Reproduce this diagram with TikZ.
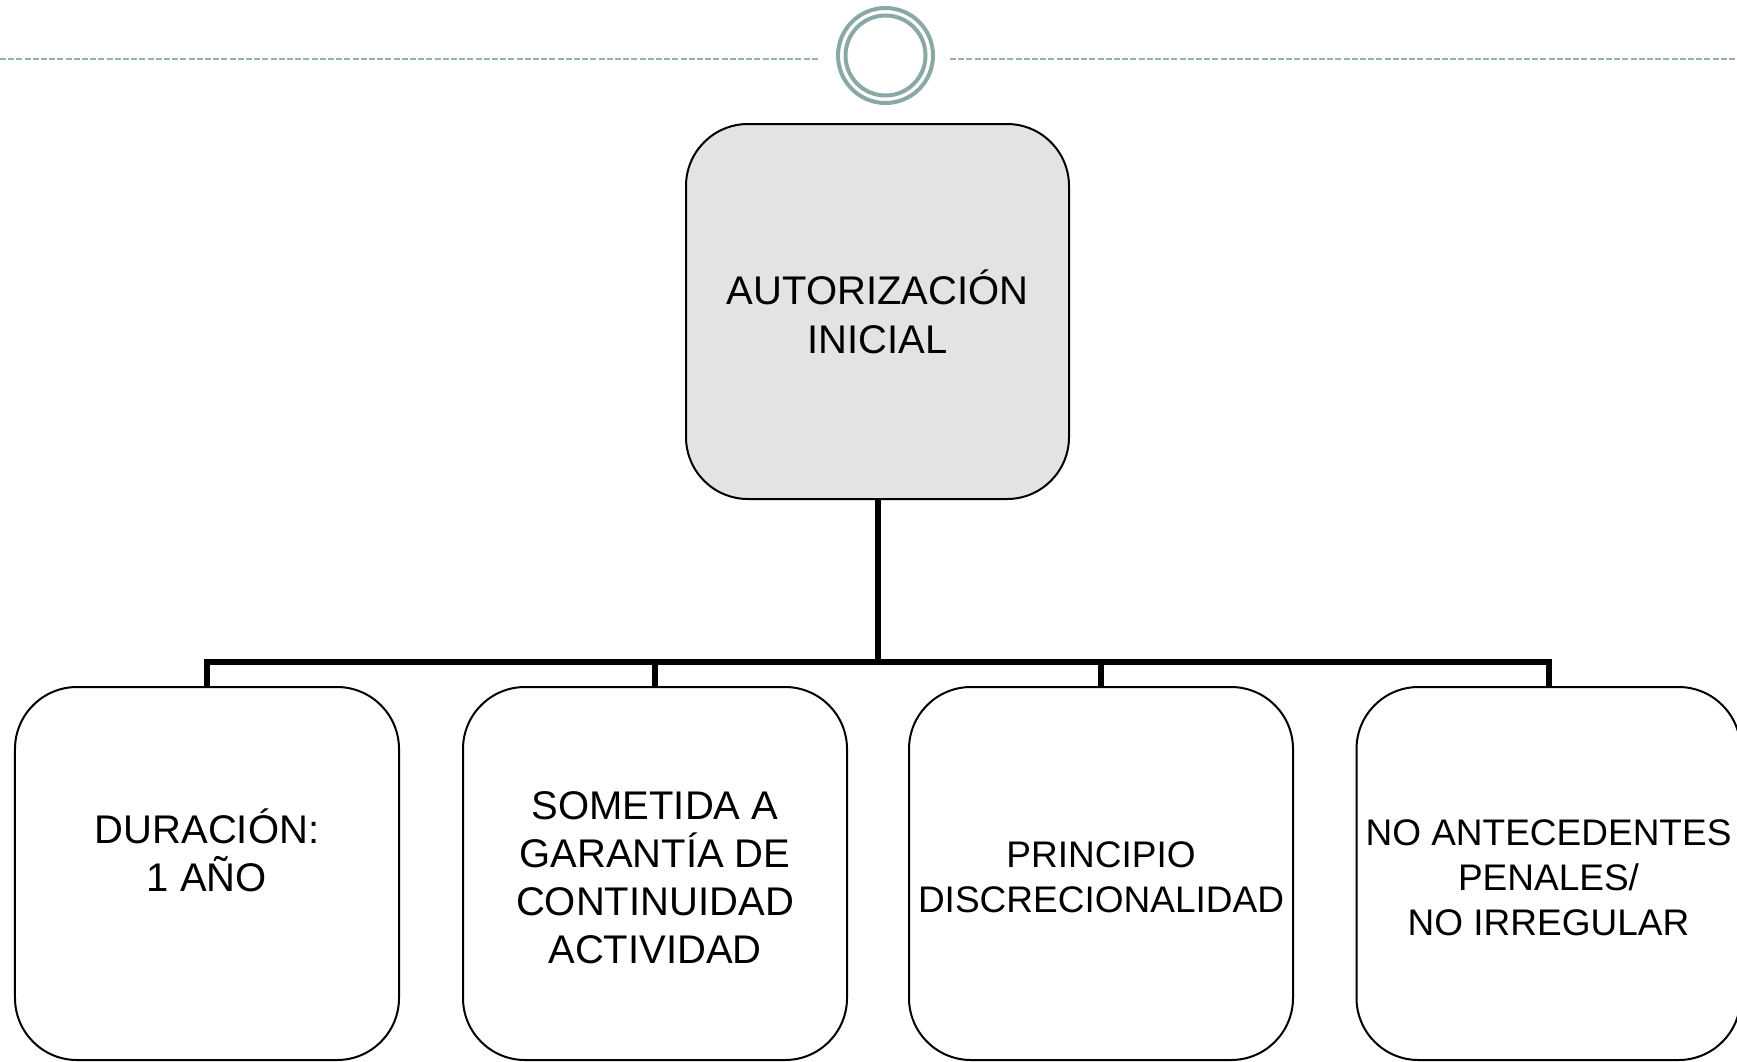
\documentclass[tikz,border=0pt]{standalone}
\usepackage{fontspec}
\setmainfont{Liberation Sans}
\definecolor{ornament}{RGB}{138,168,166}
\definecolor{dashcol}{RGB}{150,178,176}
\definecolor{topfill}{RGB}{227,227,227}
\begin{document}
\begin{tikzpicture}[x=1bp,y=-1bp,
  boxbase/.style={draw=black,line width=2bp,rounded corners=62bp,inner sep=0pt},
  topbox/.style={boxbase,fill=topfill,minimum width=383bp,minimum height=375bp},
  lowbox/.style={boxbase,fill=white,minimum width=384bp,minimum height=373bp},
  boxtext/.style={inner sep=0pt,align=center,text=black},
  conn/.style={draw=black,line width=6bp,line join=miter},
  ring/.style={draw=ornament,line width=4bp,fill=none},
  dashline/.style={draw=dashcol,line width=2bp,dash pattern=on 6bp off 2.2bp}
]
\useasboundingbox (0,0) rectangle (1737,1061);
\fill[white] (0,0) rectangle (1737,1061);

% ornament
\coordinate (dlA) at (0,59);
\coordinate (dlB) at (820,59);
\coordinate (drA) at (950,59);
\coordinate (drB) at (1737,59);
\draw[dashline] (dlA) -- (dlB);
\draw[dashline] (drA) -- (drB);
\node[circle,ring,minimum size=95bp,inner sep=0pt] (ringout) at (885.5,55.5) {};
\node[circle,ring,minimum size=80bp,inner sep=0pt] (ringin) at (885.5,55.5) {};

% boxes
\node[topbox] (top) at (877.5,311.5) {};
\node[lowbox] (b1) at (207,873.5) {};
\node[lowbox] (b2) at (655,873.5) {};
\node[lowbox] (b3) at (1101,873.5) {};
\node[lowbox] (b4) at (1548.5,873.5) {};

% texts (yshift is in page direction: positive = up)
\node[boxtext,font=\fontsize{40bp}{48.5bp}\selectfont] (topt) at ([yshift=-0.5bp]top.center) {AUTORIZACIÓN\\INICIAL};
\node[boxtext,font=\fontsize{40bp}{48bp}\selectfont] (b1t) at ([yshift=23bp]b1.center) {DURACIÓN:\\1 AÑO};
\node[boxtext,font=\fontsize{40bp}{48bp}\selectfont] (b2t) at ([yshift=-4bp]b2.center) {SOMETIDA A\\GARANTÍA DE\\CONTINUIDAD\\ACTIVIDAD};
\node[boxtext,font=\fontsize{37bp}{45.4bp}\selectfont] (b3t) at ([yshift=-4bp]b3.center) {PRINCIPIO\\DISCRECIONALIDAD};
\node[boxtext,font=\fontsize{37bp}{45bp}\selectfont] (b4t) at ([yshift=-4bp]b4.center) {NO ANTECEDENTES\\PENALES/\\NO IRREGULAR};

% connectors
\coordinate (bus) at (877.5,662);
\draw[conn] (top.south) -- (top.south |- bus);
\draw[conn] (b1.north) -- (b1.north |- bus) -- (b4.north |- bus) -- (b4.north);
\draw[conn] (b2.north) -- (b2.north |- bus);
\draw[conn] (b3.north) -- (b3.north |- bus);
\end{tikzpicture}
\end{document}
